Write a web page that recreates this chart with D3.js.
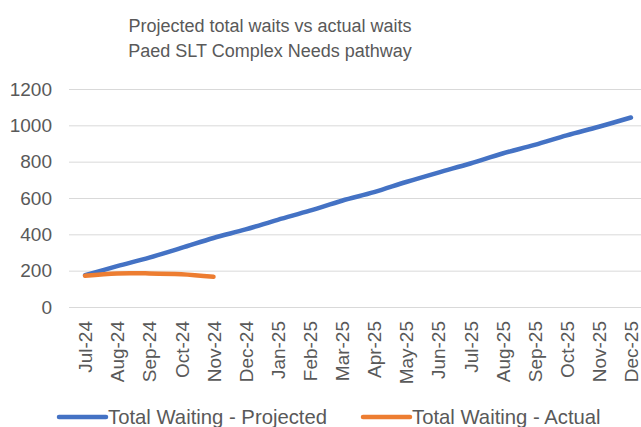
<!DOCTYPE html>
<html>
<head>
<meta charset="utf-8">
<script src="https://cdn.jsdelivr.net/npm/d3@7"></script>
<style>
  body { margin: 0; background: #fff; }
  svg { display: block; font-family: "Liberation Sans", Arial, sans-serif; }
</style>
</head>
<body>
<svg id="chart" width="641" height="427"></svg>
<script>
// months on the x axis
var months = ["Jul-24", "Aug-24", "Sep-24", "Oct-24", "Nov-24", "Dec-24",
  "Jan-25", "Feb-25", "Mar-25", "Apr-25", "May-25", "Jun-25",
  "Jul-25", "Aug-25", "Sep-25", "Oct-25", "Nov-25", "Dec-25"];

// Total Waiting - Projected
var projected = [175, 225, 272, 325, 380, 427, 480, 530, 585, 632, 688, 740,
  790, 845, 892, 945, 992, 1043];

// Total Waiting - Actual (only first few months)
var actual = [172, 185, 185, 180, 166];

var yTicks = [0, 200, 400, 600, 800, 1000, 1200];

var textColor = "#595959";
var blue = "#4472C4";
var orange = "#ED7D31";

var svg = d3.select("svg#chart");

//Scales
var x = d3.scalePoint()
  .domain(months)
  .range([69, 647])
  .padding(0.5);

var y = d3.scaleLinear()
  .domain([0, 1200])
  .range([307, 89]);

//Title
var title = svg.append("text")
  .attr("text-anchor", "middle")
  .attr("fill", textColor)
  .style("font-size", "18px");
title.append("tspan").attr("x", 270).attr("y", 32).text("Projected total waits vs actual waits");
title.append("tspan").attr("x", 270).attr("y", 57).text("Paed SLT Complex Needs pathway");

//Gridlines + y labels
var yAxis = d3.axisLeft(y)
  .tickValues(yTicks)
  .tickSize(-(647 - 69))
  .tickPadding(17)
  .tickFormat(d3.format("d"));

var gy = svg.append("g")
  .attr("transform", "translate(69,0)")
  .call(yAxis);
gy.select(".domain").remove();
gy.selectAll(".tick line").attr("stroke", "#d9d9d9").attr("stroke-width", 1);
gy.selectAll(".tick text")
  .attr("fill", textColor)
  .style("font-size", "19px")
  .style("font-family", "Liberation Sans, Arial, sans-serif");

//x labels (rotated)
var xAxis = d3.axisBottom(x).tickSize(0).tickPadding(0);
var gx = svg.append("g")
  .attr("transform", "translate(0,307)")
  .call(xAxis);
gx.select(".domain").remove();
gx.selectAll(".tick text")
  .attr("fill", textColor)
  .style("font-size", "19px")
  .style("font-family", "Liberation Sans, Arial, sans-serif")
  .attr("text-anchor", "end")
  .attr("dy", "0.35em")
  .attr("transform", "translate(0,14) rotate(-90)")
  .attr("x", 0)
  .attr("y", 0);

//Lines
var line = d3.line()
  .x(function (d, i) { return x(months[i]); })
  .y(function (d) { return y(d); })
  .curve(d3.curveCatmullRom.alpha(0.5));

svg.append("path")
  .datum(projected)
  .attr("d", line)
  .attr("fill", "none")
  .attr("stroke", blue)
  .attr("stroke-width", 4.5)
  .attr("stroke-linecap", "round");

svg.append("path")
  .datum(actual)
  .attr("d", line)
  .attr("fill", "none")
  .attr("stroke", orange)
  .attr("stroke-width", 4.5)
  .attr("stroke-linecap", "round");

//Legend
var legendItems = [
  { name: "Total Waiting - Projected", color: blue, x: 59 },
  { name: "Total Waiting - Actual", color: orange, x: 363 }
];

var legend = svg.selectAll(".legend")
  .data(legendItems)
  .enter().append("g")
  .attr("class", "legend")
  .attr("transform", function (d) { return "translate(" + d.x + ",417)"; });

legend.append("line")
  .attr("x1", 0).attr("x2", 47)
  .attr("y1", 0).attr("y2", 0)
  .attr("stroke", function (d) { return d.color; })
  .attr("stroke-width", 4.5)
  .attr("stroke-linecap", "round");

legend.append("text")
  .attr("x", 49)
  .attr("y", 0)
  .attr("dy", "0.35em")
  .attr("fill", textColor)
  .style("font-size", "20.3px")
  .text(function (d) { return d.name; });
</script>
</body>
</html>
